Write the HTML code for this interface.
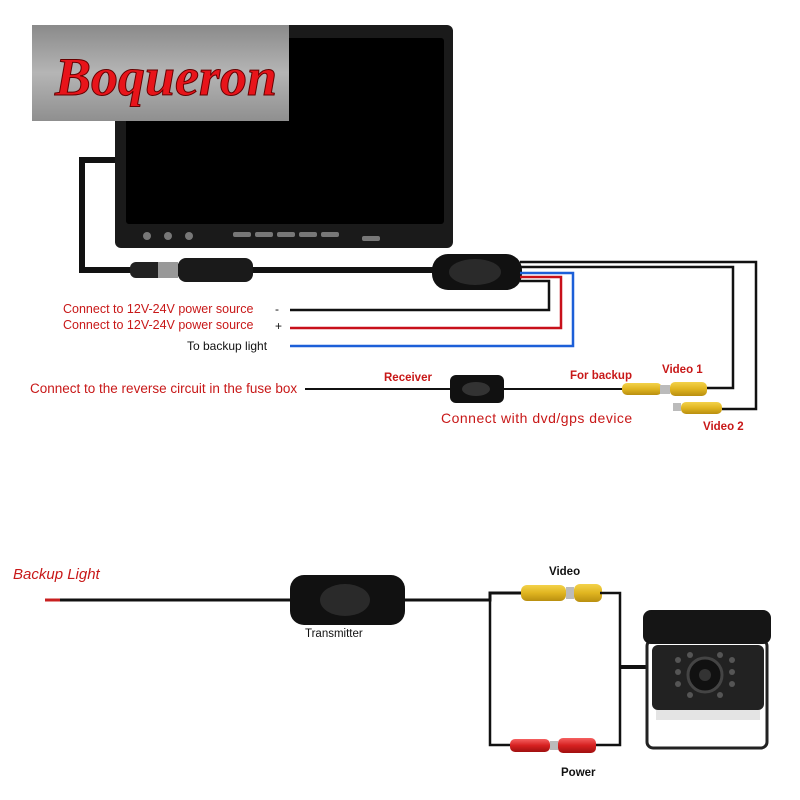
<!DOCTYPE html>
<html><head><meta charset="utf-8"><style>body{margin:0;background:#fff}svg{display:block}</style></head><body>
<svg width="800" height="800" viewBox="0 0 800 800" xmlns="http://www.w3.org/2000/svg" font-family="Liberation Sans, sans-serif">
<defs>
<linearGradient id="g1" x1="0" y1="0" x2="0" y2="1"><stop offset="0" stop-color="#8a8a8a"/><stop offset=".5" stop-color="#b5b5b5"/><stop offset="1" stop-color="#8f8f8f"/></linearGradient>
<linearGradient id="yel" x1="0" y1="0" x2="0" y2="1"><stop offset="0" stop-color="#f3d24a"/><stop offset=".5" stop-color="#e0b520"/><stop offset="1" stop-color="#b98f10"/></linearGradient>
<linearGradient id="red" x1="0" y1="0" x2="0" y2="1"><stop offset="0" stop-color="#f56060"/><stop offset=".5" stop-color="#d62020"/><stop offset="1" stop-color="#a01010"/></linearGradient>
</defs>
<!-- monitor -->
<rect x="115" y="25" width="338" height="223" rx="6" fill="#1a1a1a"/>
<rect x="126" y="38" width="318" height="186" rx="3" fill="#000"/>
<g fill="#777"><circle cx="147" cy="236" r="4"/><circle cx="168" cy="236" r="4"/><circle cx="189" cy="236" r="4"/>
<rect x="233" y="232" width="18" height="5" rx="2"/><rect x="255" y="232" width="18" height="5" rx="2"/><rect x="277" y="232" width="18" height="5" rx="2"/><rect x="299" y="232" width="18" height="5" rx="2"/><rect x="321" y="232" width="18" height="5" rx="2"/><rect x="362" y="236" width="18" height="5" rx="2"/></g>
<!-- logo -->
<rect x="32" y="25" width="257" height="96" fill="url(#g1)"/>
<text x="55" y="95" font-family="Liberation Serif, serif" font-style="italic" font-weight="bold" font-size="54" fill="#e8141a" stroke="#600" stroke-width="1">Boqueron</text>
<!-- monitor cable -->
<path d="M115 160 H82 V270 H440" fill="none" stroke="#111" stroke-width="6"/>
<rect x="130" y="262" width="50" height="16" rx="6" fill="#222"/>
<rect x="158" y="262" width="20" height="16" fill="#999"/>
<rect x="178" y="258" width="75" height="24" rx="8" fill="#1a1a1a"/>
<!-- box -->
<rect x="432" y="254" width="90" height="36" rx="16" fill="#111"/>
<ellipse cx="475" cy="272" rx="26" ry="13" fill="#2a2a2a"/>
<g fill="none" stroke-width="2.5">
<path d="M520 262 H756 V409 H722" stroke="#111"/>
<path d="M520 267 H733 V388 H700" stroke="#111"/>
<path d="M520 273 H573 V346 H290" stroke="#1c5fd8"/>
<path d="M520 277 H561 V328 H290" stroke="#c8101a"/>
<path d="M520 281 H549 V310 H290" stroke="#111"/>
</g>
<g font-size="12.5" fill="#c81818">
<text x="63" y="313">Connect to 12V-24V power source</text>
<text x="63" y="329">Connect to 12V-24V power source</text>
</g>
<text x="275" y="313" font-size="12" fill="#111">-</text>
<text x="275" y="330" font-size="12" fill="#111">+</text>
<text x="187" y="350" font-size="12" fill="#111">To backup light</text>
<text x="30" y="393" font-size="13.5" fill="#c81818">Connect to the reverse circuit in the fuse box</text>
<!-- receiver -->
<path d="M305 389 H625" stroke="#111" stroke-width="2"/>
<rect x="450" y="375" width="54" height="28" rx="6" fill="#111"/>
<ellipse cx="476" cy="389" rx="14" ry="7" fill="#333"/>
<text x="384" y="381" font-size="11.5" font-weight="bold" fill="#c81818">Receiver</text>
<text x="570" y="379" font-size="11.5" font-weight="bold" fill="#c81818">For backup</text>
<text x="662" y="373" font-size="11.5" font-weight="bold" fill="#c81818">Video 1</text>
<text x="703" y="430" font-size="11.5" font-weight="bold" fill="#c81818">Video 2</text>
<text x="441" y="423" font-size="14" fill="#c81818" letter-spacing=".5">Connect with dvd/gps device</text>
<rect x="622" y="383" width="40" height="12" rx="5" fill="url(#yel)"/>
<rect x="660" y="385" width="10" height="9" fill="#bbb"/>
<rect x="670" y="382" width="37" height="14" rx="5" fill="url(#yel)"/>
<rect x="673" y="403" width="8" height="8" fill="#bbb"/>
<rect x="681" y="402" width="41" height="12" rx="5" fill="url(#yel)"/>
<!-- bottom -->
<text x="13" y="579" font-size="15" font-style="italic" fill="#c81818">Backup  Light</text>
<path d="M45 600 H300" stroke="#111" stroke-width="3"/>
<path d="M45 600 H60" stroke="#c82020" stroke-width="3"/>
<path d="M400 600 H490 V593 H525" fill="none" stroke="#111" stroke-width="3"/>
<rect x="290" y="575" width="115" height="50" rx="14" fill="#111"/>
<ellipse cx="345" cy="600" rx="25" ry="16" fill="#2a2a2a"/>
<text x="305" y="637" font-size="11.5" fill="#111">Transmitter</text>
<text x="549" y="575" font-size="11.5" font-weight="bold" fill="#111">Video</text>
<rect x="521" y="585" width="45" height="16" rx="6" fill="url(#yel)"/>
<rect x="566" y="587" width="8" height="12" fill="#bbb"/>
<rect x="574" y="584" width="28" height="18" rx="6" fill="url(#yel)"/>
<path d="M490 600 V745 H512" fill="none" stroke="#111" stroke-width="2.5"/>
<path d="M600 593 H620 V745 H595" fill="none" stroke="#111" stroke-width="2.5"/>
<path d="M620 667 H646" stroke="#111" stroke-width="4"/>
<rect x="510" y="739" width="40" height="13" rx="5" fill="url(#red)"/>
<rect x="550" y="741" width="8" height="9" fill="#bbb"/>
<rect x="558" y="738" width="38" height="15" rx="5" fill="url(#red)"/>
<text x="561" y="776" font-size="11.5" font-weight="bold" fill="#111">Power</text>
<!-- camera -->
<rect x="647" y="640" width="120" height="108" rx="6" fill="#fff" stroke="#222" stroke-width="3"/>
<rect x="643" y="610" width="128" height="34" rx="8" fill="#151515"/>
<rect x="652" y="645" width="112" height="65" rx="6" fill="#222"/>
<rect x="656" y="710" width="104" height="10" fill="#e4e4e4"/>
<circle cx="705" cy="675" r="17" fill="#111" stroke="#444" stroke-width="3"/>
<circle cx="705" cy="675" r="6" fill="#333"/>
<g fill="#555"><circle cx="678" cy="660" r="3"/><circle cx="678" cy="672" r="3"/><circle cx="678" cy="684" r="3"/><circle cx="732" cy="660" r="3"/><circle cx="732" cy="672" r="3"/><circle cx="732" cy="684" r="3"/><circle cx="690" cy="655" r="3"/><circle cx="720" cy="655" r="3"/><circle cx="690" cy="695" r="3"/><circle cx="720" cy="695" r="3"/></g>
</svg>
</body></html>
